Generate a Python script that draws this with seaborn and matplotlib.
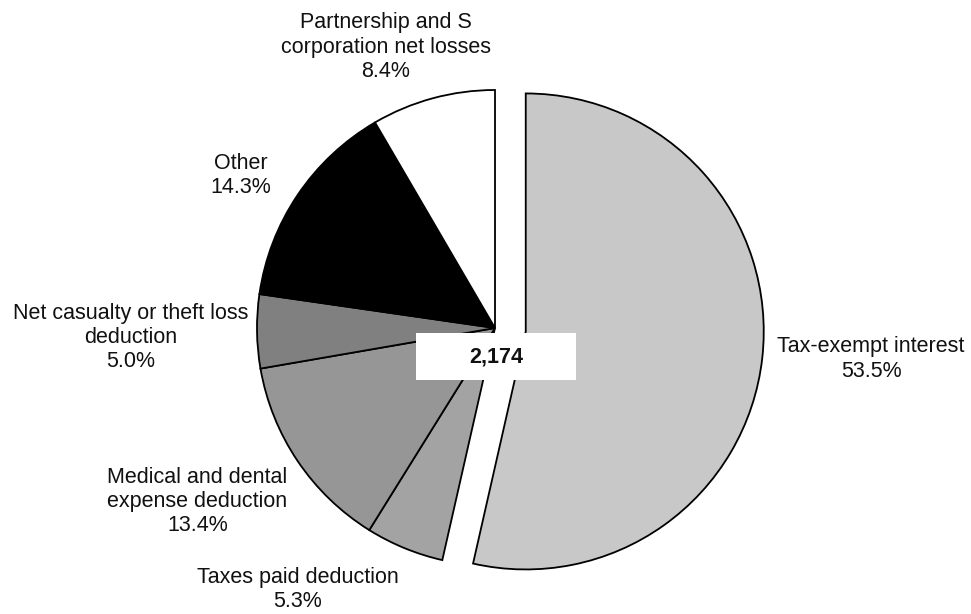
import matplotlib
matplotlib.use("Agg")
import matplotlib.pyplot as plt
import seaborn as sns
from matplotlib.patches import Rectangle

sns.set_theme(style="white")
plt.rcParams['font.family'] = ['Liberation Sans', 'DejaVu Sans']

categories = ["Tax-exempt interest", "Taxes paid deduction",
              "Medical and dental\nexpense deduction",
              "Net casualty or theft loss\ndeduction", "Other",
              "Partnership and S\ncorporation net losses"]
shares = [53.5, 5.3, 13.4, 5.0, 14.3, 8.4]
colors = ["#c8c8c8", "#a3a3a3", "#969696", "#808080", "#000000", "#ffffff"]
explode = [0.13, 0, 0, 0, 0, 0]
total_label = "2,174"

# label anchor positions (data units, pie radius = 1)
label_pos = [(1.58, -0.13), (-0.83, -1.10), (-1.25, -0.73),
             (-1.53, -0.04), (-1.07, 0.64), (-0.46, 1.18)]

fig = plt.figure(figsize=(9.71, 6.14), dpi=100)
ax = fig.add_axes([0, 0, 1, 1])
wedges, _ = ax.pie(shares, colors=colors, explode=explode, startangle=90,
                   counterclock=False, radius=1,
                   wedgeprops=dict(edgecolor="black", linewidth=1.3))
ax.set_xlim(-495 / 238, (971 - 495) / 238)
ax.set_ylim((328 - 614) / 238, 328 / 238)
ax.set_aspect("equal")
ax.axis("off")

for cat, val, (x, y) in zip(categories, shares, label_pos):
    ax.text(x, y, f"{cat}\n{val:.1f}%", ha="center", va="center",
            fontsize=15.5, color="#111111", linespacing=1.2)

ax.add_patch(Rectangle((-0.332, -0.218), 0.672, 0.197, facecolor="white",
                       edgecolor="none", zorder=5))
ax.text(0.004, -0.122, total_label, ha="center", va="center", fontsize=15.5,
        fontweight="bold", color="#111111", zorder=6)

fig.savefig("out.png", dpi=100, facecolor="white")
